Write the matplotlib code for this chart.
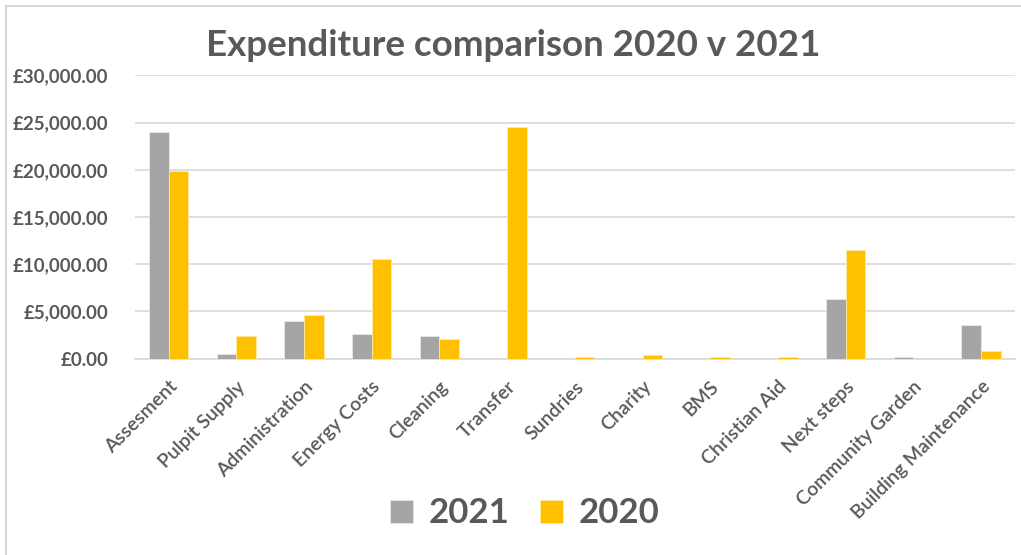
import matplotlib.pyplot as plt
import numpy as np
from matplotlib.patches import Rectangle

# datos
categorias = ['Assesment', 'Pulpit Supply', 'Administration', 'Energy Costs', 'Cleaning',
              'Transfer', 'Sundries', 'Charity', 'BMS', 'Christian Aid', 'Next steps',
              'Community Garden', 'Building Maintenance']
gasto_2021 = [24000, 530, 4030, 2620, 2440, 0, 0, 0, 0, 0, 6300, 200, 3540]
gasto_2020 = [19880, 2440, 4660, 10570, 2120, 24590, 200, 350, 200, 200, 11520, 0, 850]
ticks_y = [0, 5000, 10000, 15000, 20000, 25000, 30000]

gris_texto = '#595959'
plt.rcParams['font.family'] = ['Lato', 'DejaVu Sans']

fig = plt.figure(figsize=(10.21, 5.55), dpi=100)
ax = fig.add_axes([0.132, 0.354, 0.862, 0.510])

# borde del area del grafico
fig.patches.append(Rectangle((6 / 1021, -0.1), 1.2, 1.09, transform=fig.transFigure,
                             fill=False, edgecolor='#D0D0D0', linewidth=1.2))

x = np.arange(len(categorias))
ancho = 0.29
ax.bar(x - ancho / 2, gasto_2021, ancho, color='#A5A5A5', edgecolor='#E8E8E8',
       linewidth=0.6, label='2021', zorder=3)
ax.bar(x + ancho / 2, gasto_2020, ancho, color='#FFC000', edgecolor='#FFE9A0',
       linewidth=0.6, label='2020', zorder=3)

ax.set_xlim(-0.5, len(categorias) - 0.5)
ax.set_ylim(0, 30000)
ax.set_yticks(ticks_y)
ax.set_yticklabels(['£{:,.2f}'.format(v) for v in ticks_y], fontsize=13.5,
                   fontweight='bold', color=gris_texto)
ax.set_xticks(x)
ax.set_xticklabels(categorias, rotation=45, ha='right', rotation_mode='anchor',
                   fontsize=14, fontweight='semibold', color=gris_texto)
ax.tick_params(axis='y', length=0, pad=19)
ax.tick_params(axis='x', length=0, pad=14)

ax.grid(axis='y', color='#D9D9D9', linewidth=1.2, zorder=0)
for s in ['top', 'right', 'left']:
    ax.spines[s].set_visible(False)
ax.spines['bottom'].set_color('#D9D9D9')
ax.spines['bottom'].set_linewidth(1.2)

fig.text(0.503, 0.918, 'Expenditure comparison 2020 v 2021', ha='center', va='center',
         fontsize=26.5, fontweight='bold', color=gris_texto)

leg = fig.legend(loc='center', bbox_to_anchor=(0.514, 0.075), ncol=2, frameon=False,
                 prop={'size': 25, 'weight': 'bold'}, handlelength=0.65, handleheight=0.65,
                 columnspacing=0.9, handletextpad=0.45)
for t in leg.get_texts():
    t.set_color(gris_texto)

plt.savefig('out.png', dpi=100)
